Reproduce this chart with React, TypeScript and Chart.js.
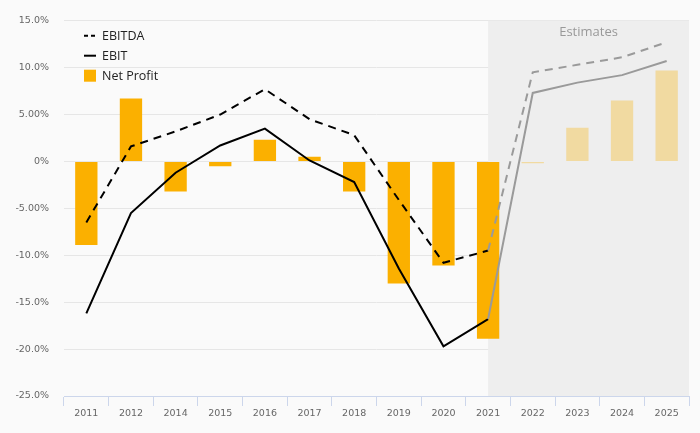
import React, { useEffect, useRef } from "react";
import { Chart, registerables } from "chart.js";

Chart.register(...registerables);

const categories = ["2011", "2012", "2014", "2015", "2016", "2017", "2018", "2019", "2020", "2021", "2022", "2023", "2024", "2025"];
const ebitda = [-6.5, 1.6, 3.2, 5.0, 7.7, 4.5, 2.8, -4.1, -10.8, -9.5, 9.5, 10.3, 11.1, 12.7];
const ebit = [-16.2, -5.5, -1.2, 1.7, 3.5, 0.1, -2.2, -11.4, -19.7, -16.8, 7.3, 8.4, 9.2, 10.7];
const netProfit = [-8.9, 6.7, -3.2, -0.5, 2.3, 0.5, -3.2, -13.0, -11.1, -18.9, -0.2, 3.6, 6.5, 9.7];
const yTickValues = [15, 10, 5, 0, -5, -10, -15, -20, -25];
const yTickLabels = ["15.0%", "10.0%", "5.00%", "0%", "-5.00%", "-10.0%", "-15.0%", "-20.0%", "-25.0%"];
const firstEstimateIndex = 10;
const estimatesLabel = "Estimates";
const legendLabels = ["EBITDA", "EBIT", "Net Profit"];

const ORANGE = "#fbb000";
const ORANGE_LIGHT = "rgba(249,176,0,0.32)";
const GREY_LINE = "#9a9a9a";

const bgPlugin = {
  id: "estimatesBand",
  beforeDatasetsDraw(chart: any) {
    const { ctx, chartArea, scales } = chart;
    const x0 = scales.x.getPixelForValue(firstEstimateIndex - 1);
    ctx.save();
    ctx.fillStyle = "#eeeeee";
    ctx.fillRect(x0, chartArea.top, chartArea.right - x0, chartArea.bottom - chartArea.top);
    ctx.restore();
  },
  afterDatasetsDraw(chart: any) {
    const { ctx, chartArea, scales } = chart;
    const x0 = scales.x.getPixelForValue(firstEstimateIndex - 1);
    ctx.save();
    ctx.font = "13px 'Open Sans'";
    ctx.fillStyle = "#999999";
    ctx.textAlign = "center";
    ctx.textBaseline = "middle";
    ctx.fillText(estimatesLabel, (x0 + chartArea.right) / 2, chartArea.top + 12);

    // legend
    const lx = chartArea.left + 20;
    const ys = [chartArea.top + 15, chartArea.top + 35, chartArea.top + 55];
    ctx.strokeStyle = "#000";
    ctx.lineWidth = 2;
    ctx.setLineDash([4, 3]);
    ctx.beginPath();
    ctx.moveTo(lx, ys[0]);
    ctx.lineTo(lx + 12, ys[0]);
    ctx.stroke();
    ctx.setLineDash([]);
    ctx.beginPath();
    ctx.moveTo(lx, ys[1]);
    ctx.lineTo(lx + 12, ys[1]);
    ctx.stroke();
    ctx.fillStyle = ORANGE;
    ctx.fillRect(lx, ys[2] - 6, 12, 12);
    ctx.fillStyle = "#222";
    ctx.textAlign = "left";
    ctx.font = "12.5px 'Open Sans'";
    legendLabels.forEach((t, i) => ctx.fillText(t, lx + 18, ys[i] + 1));
    ctx.restore();
  },
};

export default function App() {
  const ref = useRef<HTMLCanvasElement>(null);
  useEffect(() => {
    document.body.style.margin = "0";
    const segColor = (c: any) => (c.p1DataIndex >= firstEstimateIndex ? GREY_LINE : "#000");
    const chart = new Chart(ref.current!, {
      type: "bar",
      data: {
        labels: categories,
        datasets: [
          {
            type: "line",
            label: legendLabels[0],
            data: ebitda,
            borderColor: "#000",
            borderWidth: 2,
            borderDash: [8, 6],
            pointRadius: 0,
            tension: 0,
            order: 0,
            segment: { borderColor: segColor },
          } as any,
          {
            type: "line",
            label: legendLabels[1],
            data: ebit,
            borderColor: "#000",
            borderWidth: 2,
            pointRadius: 0,
            tension: 0,
            order: 0,
            segment: { borderColor: segColor },
          } as any,
          {
            type: "bar",
            label: legendLabels[2],
            data: netProfit,
            backgroundColor: netProfit.map((_, i) => (i >= firstEstimateIndex ? ORANGE_LIGHT : ORANGE)),
            barPercentage: 0.5,
            categoryPercentage: 1,
            order: 1,
          },
        ],
      },
      options: {
        animation: false,
        responsive: true,
        maintainAspectRatio: false,
        layout: { padding: { top: 20, right: 11, left: 0, bottom: 0 } },
        plugins: { legend: { display: false }, tooltip: { enabled: false } },
        scales: {
          x: {
            offset: true,
            grid: { offset: true, drawOnChartArea: false, drawTicks: true, tickLength: 10, color: "#ccd6eb" },
            border: { color: "#ccd6eb" },
            ticks: { color: "#666", font: { family: "'DejaVu Sans'", size: 9.5 }, padding: 2, maxRotation: 0, autoSkip: false },
            afterFit: (s: any) => { s.height = 37; },
          },
          y: {
            min: -25,
            max: 15,
            afterBuildTicks: (s: any) => { s.ticks = yTickValues.map((v) => ({ value: v })); },
            grid: { color: "#e6e6e6", drawTicks: false },
            border: { display: false },
            ticks: {
              color: "#666",
              font: { family: "'DejaVu Sans'", size: 9.5 },
              padding: 15,
              callback: (v: any) => yTickLabels[yTickValues.indexOf(Number(v))] ?? "",
            },
            afterFit: (s: any) => { s.width = 64; },
          },
        },
      },
      plugins: [bgPlugin],
    });
    return () => chart.destroy();
  }, []);
  return (
    <div style={{ position: "absolute", left: 0, top: 0, width: 700, height: 433, background: "#fafafa" }}>
      <canvas ref={ref} />
    </div>
  );
}
